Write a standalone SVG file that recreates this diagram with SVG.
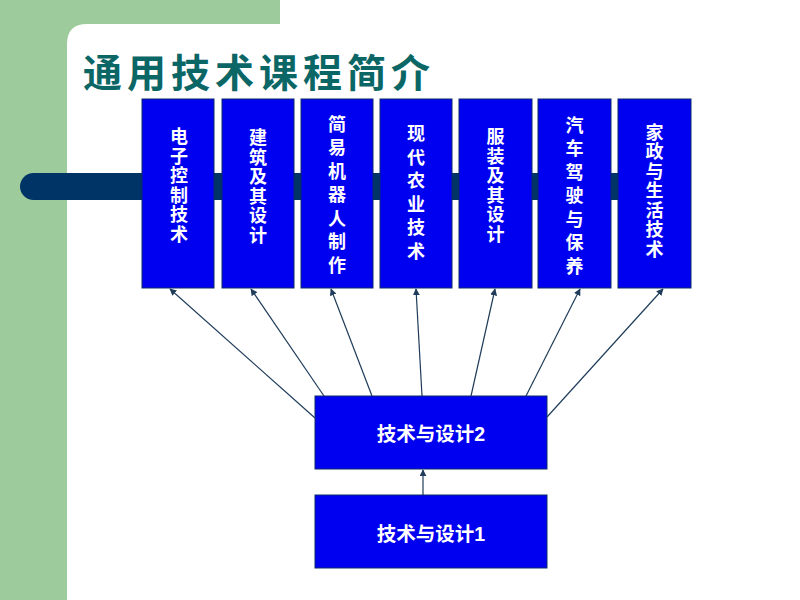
<svg xmlns="http://www.w3.org/2000/svg" width="800" height="600" viewBox="0 0 800 600">
<defs>
<style>
.bg{fill:#9dcb9b}
.box{fill:#0000f0;stroke:#0a2a6a;stroke-width:1}
.vt{font-family:"Noto Sans CJK SC","Noto Sans",sans-serif;font-weight:700;font-size:18px;fill:#ffffff;text-anchor:middle;writing-mode:vertical-rl;text-orientation:upright}
.s1{letter-spacing:1.5px}
.s2{letter-spacing:5.5px}
.ht{font-family:"Liberation Sans","Noto Sans CJK SC",sans-serif;font-weight:700;font-size:19.5px;fill:#ffffff;text-anchor:middle}
.title{font-family:"Noto Sans CJK SC",sans-serif;font-weight:700;font-size:39px;fill:#0b6666;letter-spacing:5px}
.conn{stroke:#1f3c5a;stroke-width:1.2;fill:none;marker-end:url(#ah)}
</style>
<marker id="ah" viewBox="0 0 10 10" refX="9" refY="5" markerWidth="7" markerHeight="7" markerUnits="userSpaceOnUse" orient="auto">
<path d="M0,0 L10,5 L0,10 z" fill="#1f3c5a"/>
</marker>
</defs>
<rect width="800" height="600" fill="#ffffff"/>
<rect class="bg" x="0" y="0" width="280" height="24"/>
<rect class="bg" x="0" y="0" width="67" height="600"/>
<path d="M67,44 Q67,24 87,24 L87,24 L67,24 z" class="bg"/>
<text class="title" x="83" y="87">通用技术课程简介</text>
<rect x="20" y="173" width="665" height="27" rx="13.5" fill="#003366"/>
<g id="n1"><rect class="box" x="142" y="99" width="72" height="189"/><text class="vt s1" x="179" y="186">电子控制技术</text></g>
<g id="n2"><rect class="box" x="222" y="99" width="72" height="189"/><text class="vt s1" x="258" y="187">建筑及其设计</text></g>
<g id="n3"><rect class="box" x="301" y="99" width="72" height="189"/><text class="vt s2" x="337" y="197">简易机器人制作</text></g>
<g id="n4"><rect class="box" x="380" y="99" width="72" height="189"/><text class="vt s2" x="416" y="195">现代农业技术</text></g>
<g id="n5"><rect class="box" x="459" y="99" width="73" height="189"/><text class="vt s1" x="495.5" y="186">服装及其设计</text></g>
<g id="n6"><rect class="box" x="538" y="99" width="73" height="189"/><text class="vt s2" x="574.5" y="198">汽车驾驶与保养</text></g>
<g id="n7"><rect class="box" x="618" y="99" width="73" height="189"/><text class="vt s1" x="654.5" y="191">家政与生活技术</text></g>
<g id="td2"><rect class="box" x="315" y="396" width="232" height="73"/><text class="ht" x="431" y="441">技术与设计2</text></g>
<g id="td1"><rect class="box" x="315" y="495" width="232" height="73"/><text class="ht" x="431" y="541">技术与设计1</text></g>
<g id="connectors">
<line class="conn" x1="315" y1="418" x2="170" y2="289"/>
<line class="conn" x1="324" y1="396" x2="251" y2="289"/>
<line class="conn" x1="372" y1="396" x2="331" y2="289"/>
<line class="conn" x1="422" y1="396" x2="416" y2="289"/>
<line class="conn" x1="471" y1="396" x2="495" y2="289"/>
<line class="conn" x1="526" y1="396" x2="580" y2="289"/>
<line class="conn" x1="547" y1="417" x2="663" y2="289"/>
<line class="conn" x1="423" y1="495" x2="423" y2="470"/>
</g>
</svg>
